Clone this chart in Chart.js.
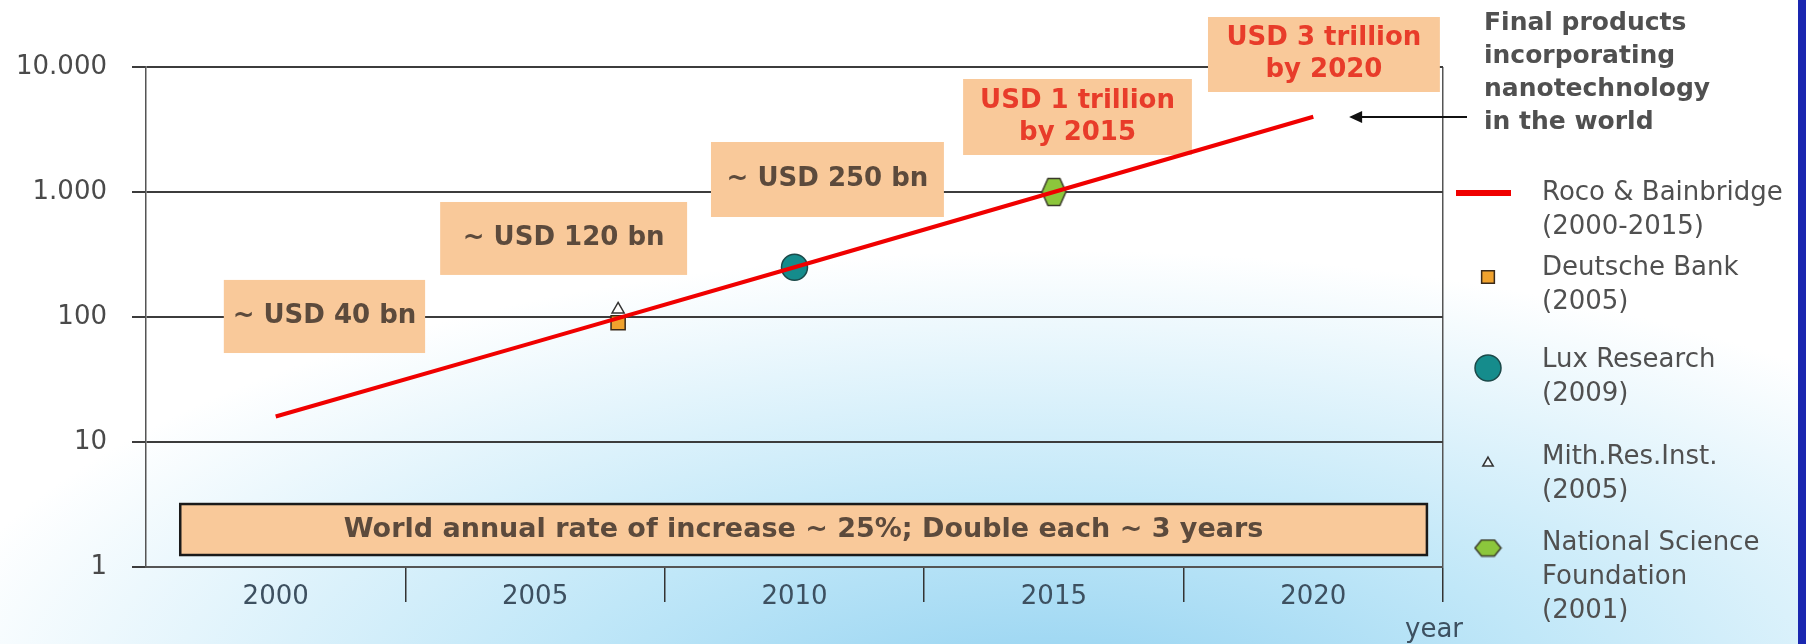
<!DOCTYPE html>
<html>
<head>
<meta charset="utf-8">
<script src="https://cdn.jsdelivr.net/npm/chart.js@4"></script>
<style>
    html, body { margin: 0; padding: 0; }
    #wrap {
        position: relative; width: 1806px; height: 644px; overflow: hidden;
        background:
            radial-gradient(ellipse 1150px 470px at 1050px 720px, #8fd0f0 0%, #c0e7f8 45%, rgba(255,255,255,0) 100%),
            #ffffff;
    }
    #stripe { position: absolute; right: 0; top: 0; width: 8px; height: 644px; background: #1a27b0; }
</style>
</head>
<body>
<div id="wrap">
    <canvas id="myChart" width="1806" height="644"></canvas>
    <div id="stripe"></div>
</div>
<script>
// values (USD bn, log scale)
const years = [2000, 2005, 2010, 2015, 2020];
const xTickLabels = ['2000', '2005', '2010', '2015', '2020'];
const yTicks = [1, 10, 100, 1000, 10000];
const yTickLabels = ['1', '10', '100', '1.000', '10.000'];

const rocoValues = [16, 63, 250, 1000, 4000];
const deutscheBank = [{ x: 2006.6, y: 90 }];
const luxResearch = [{ x: 2010, y: 250 }];
const mithResInst = [{ x: 2006.6, y: 115 }];
const nsfValues = [{ x: 2015, y: 1000 }];

const seriesNames = ['Roco & Bainbridge', 'Deutsche Bank', 'Lux Research', 'Mith.Res.Inst.', 'National Science\nFoundation'];
const seriesSources = ['(2000-2015)', '(2005)', '(2009)', '(2005)', '(2001)'];

const calloutTexts = [
    ['~ USD 40 bn'], ['~ USD 120 bn'], ['~ USD 250 bn'],
    ['USD 1 trillion', 'by 2015'], ['USD 3 trillion', 'by 2020'],
    ['World annual rate of increase ~ 25%; Double each ~ 3 years']
];
const noteLines = ['Final products', 'incorporating', 'nanotechnology', 'in the world'];

// callout boxes placed in data space (year range, value range)
const calloutBoxes = [
    { x0: 1999.0, x1: 2002.88, y0: 51.5, y1: 198, color: '#5c4a3c', size: 26 },
    { x0: 2003.17, x1: 2007.93, y0: 217, y1: 832, color: '#5c4a3c', size: 26 },
    { x0: 2008.39, x1: 2012.88, y0: 631, y1: 2512, color: '#5c4a3c', size: 26 },
    { x0: 2013.25, x1: 2017.66, y0: 1977, y1: 8017, color: '#e83c2a', size: 26 },
    { x0: 2017.97, x1: 2022.44, y0: 6310, y1: 25119, color: '#e83c2a', size: 26 },
    { x0: 1998.16, x1: 2022.19, y0: 1.247, y1: 3.19, color: '#5c4a3c', size: 27, border: true }
];

const FONT = 'DejaVu Sans';
Chart.defaults.font.family = FONT;

function hexagon(w, h, fill) {
    const c = document.createElement('canvas');
    c.width = w + 3; c.height = h + 3;
    const g = c.getContext('2d');
    const cx = c.width / 2, cy = c.height / 2, a = w / 2, b = h / 2, q = w / 4;
    g.beginPath();
    g.moveTo(cx - a, cy);
    g.lineTo(cx - q, cy - b);
    g.lineTo(cx + q, cy - b);
    g.lineTo(cx + a, cy);
    g.lineTo(cx + q, cy + b);
    g.lineTo(cx - q, cy + b);
    g.closePath();
    g.fillStyle = fill; g.fill();
    g.lineWidth = 1.5; g.strokeStyle = '#3a3a2a'; g.stroke();
    return c;
}

const overlay = {
    id: 'overlay',
    beforeDatasetsDraw(chart) {
        const { ctx, scales: { x, y } } = chart;
        calloutBoxes.forEach((b, i) => {
            const l = x.getPixelForValue(b.x0), r = x.getPixelForValue(b.x1);
            const t = y.getPixelForValue(b.y1), btm = y.getPixelForValue(b.y0);
            ctx.save();
            ctx.fillStyle = '#f9c99a';
            ctx.fillRect(l, t, r - l, btm - t);
            if (b.border) {
                ctx.lineWidth = 2.5;
                ctx.strokeStyle = '#1a1a1a';
                ctx.strokeRect(l, t, r - l, btm - t);
            }
            const lines = calloutTexts[i];
            ctx.fillStyle = b.color;
            ctx.font = 'bold ' + b.size + 'px ' + FONT;
            ctx.textAlign = 'center';
            ctx.textBaseline = 'middle';
            const cy = (t + btm) / 2, lh = 32;
            lines.forEach((s, k) => {
                ctx.fillText(s, (l + r) / 2, cy + (k - (lines.length - 1) / 2) * lh);
            });
            ctx.restore();
        });
    },
    afterDraw(chart) {
        const { ctx, scales: { x, y } } = chart;
        const right = x.right;
        ctx.save();

        // note + arrow
        ctx.fillStyle = '#505050';
        ctx.font = 'bold 25px ' + FONT;
        ctx.textAlign = 'left';
        ctx.textBaseline = 'middle';
        noteLines.forEach((s, k) => ctx.fillText(s, right + 41, 23 + k * 33));

        const ay = y.getPixelForValue(3981);
        const headX = x.getPixelForValue(2020.69);
        ctx.strokeStyle = '#111';
        ctx.lineWidth = 2;
        ctx.beginPath();
        ctx.moveTo(right + 24, ay);
        ctx.lineTo(headX + 8, ay);
        ctx.stroke();
        ctx.fillStyle = '#111';
        ctx.beginPath();
        ctx.moveTo(headX, ay);
        ctx.lineTo(headX + 13, ay - 6);
        ctx.lineTo(headX + 13, ay + 6);
        ctx.closePath();
        ctx.fill();

        // legend
        const rows = [
            { icon: 193, text: 193 }, { icon: 277, text: 268 }, { icon: 368, text: 360 },
            { icon: 463, text: 457 }, { icon: 548, text: 543 }
        ];
        const iconX = right + 45, textX = right + 99;
        chart.data.datasets.forEach((ds, i) => {
            const row = rows[i];
            if (ds.type === 'line') {
                ctx.strokeStyle = ds.borderColor;
                ctx.lineWidth = 6;
                ctx.beginPath();
                ctx.moveTo(right + 13, row.icon);
                ctx.lineTo(right + 68, row.icon);
                ctx.stroke();
            } else {
                ctx.fillStyle = ds.legendFill || ds.backgroundColor;
                ctx.strokeStyle = ds.borderColor;
                ctx.lineWidth = ds.borderWidth;
                Chart.helpers.drawPoint(ctx, {
                    pointStyle: ds.legendStyle || ds.pointStyle,
                    radius: ds.legendRadius, rotation: 0, borderWidth: ds.borderWidth
                }, iconX, row.icon);
            }
            const lines = seriesNames[i].split('\n').concat([seriesSources[i]]);
            ctx.fillStyle = '#505050';
            ctx.font = '26px ' + FONT;
            ctx.textAlign = 'left';
            ctx.textBaseline = 'middle';
            lines.forEach((s, k) => ctx.fillText(s, textX, row.text + k * 34));
        });

        // axis unit
        ctx.fillStyle = '#3d5060';
        ctx.font = '26px ' + FONT;
        ctx.textAlign = 'center';
        ctx.fillText('year', right - 9, 630);
        ctx.restore();
    }
};

const ctx = document.getElementById('myChart').getContext('2d');
const myChart = new Chart(ctx, {
    data: {
        datasets: [
            {
                type: 'line',
                label: seriesNames[0],
                data: years.map((yr, i) => ({ x: yr, y: rocoValues[i] })),
                borderColor: '#f00000',
                borderWidth: 4,
                pointRadius: 0,
                tension: 0
            },
            {
                type: 'scatter',
                label: seriesNames[1],
                data: deutscheBank,
                pointStyle: 'rect',
                pointRadius: 10,
                legendRadius: 9,
                backgroundColor: '#f0a22e',
                borderColor: '#3a2a1a',
                borderWidth: 1.5
            },
            {
                type: 'scatter',
                label: seriesNames[2],
                data: luxResearch,
                pointStyle: 'circle',
                pointRadius: 13,
                legendRadius: 13,
                backgroundColor: '#158c8c',
                borderColor: '#1c4a4a',
                borderWidth: 1.5
            },
            {
                type: 'scatter',
                label: seriesNames[3],
                data: mithResInst,
                pointStyle: 'triangle',
                pointRadius: 7,
                legendRadius: 6,
                backgroundColor: '#ffffff',
                legendFill: 'rgba(255,255,255,0.6)',
                borderColor: '#333333',
                borderWidth: 1.5
            },
            {
                type: 'scatter',
                label: seriesNames[4],
                data: nsfValues,
                pointStyle: hexagon(24, 27, '#8cc63c'),
                legendStyle: hexagon(26, 16, '#8cc63c'),
                pointRadius: 13,
                backgroundColor: '#8cc63c',
                borderColor: '#3a3a2a',
                borderWidth: 1.5
            }
        ]
    },
    options: {
        responsive: false,
        devicePixelRatio: 1,
        animation: false,
        layout: { padding: { left: 0, top: 67, right: 363, bottom: 0 } },
        plugins: { legend: { display: false }, tooltip: { enabled: false } },
        scales: {
            x: {
                type: 'linear',
                min: 1997.5,
                max: 2022.5,
                afterBuildTicks: (scale) => {
                    const t = [];
                    years.forEach(yr => { t.push({ value: yr }); t.push({ value: yr + 2.5 }); });
                    scale.ticks = t;
                },
                afterFit: (scale) => { scale.height = 77; },
                grid: {
                    drawOnChartArea: true,
                    tickLength: 35,
                    lineWidth: 1.5,
                    color: (c) => (c.tick && c.tick.value === 2022.5) ? '#555555' : 'rgba(0,0,0,0)',
                    tickColor: (c) => (c.tick && years.indexOf(c.tick.value) < 0) ? '#333333' : 'rgba(0,0,0,0)'
                },
                border: { display: true, color: '#555555', width: 2 },
                ticks: {
                    autoSkip: false,
                    maxRotation: 0,
                    padding: -20,
                    color: '#3d5060',
                    font: { size: 26 },
                    callback: (v) => {
                        const i = years.indexOf(v);
                        return i >= 0 ? xTickLabels[i] : '';
                    }
                }
            },
            y: {
                type: 'logarithmic',
                min: 1,
                max: 10000,
                afterBuildTicks: (scale) => { scale.ticks = yTicks.map(v => ({ value: v })); },
                afterFit: (scale) => { scale.width = 146; },
                grid: { color: '#3c3c3c', lineWidth: 2, tickLength: 14, tickColor: '#3c3c3c' },
                border: { display: true, color: '#555555', width: 1.5 },
                ticks: {
                    padding: 25,
                    color: '#4a4a4a',
                    font: { size: 26 },
                    callback: (v) => {
                        const i = yTicks.indexOf(v);
                        return i >= 0 ? yTickLabels[i] : '';
                    }
                }
            }
        }
    },
    plugins: [overlay]
});
</script>
</body>
</html>
